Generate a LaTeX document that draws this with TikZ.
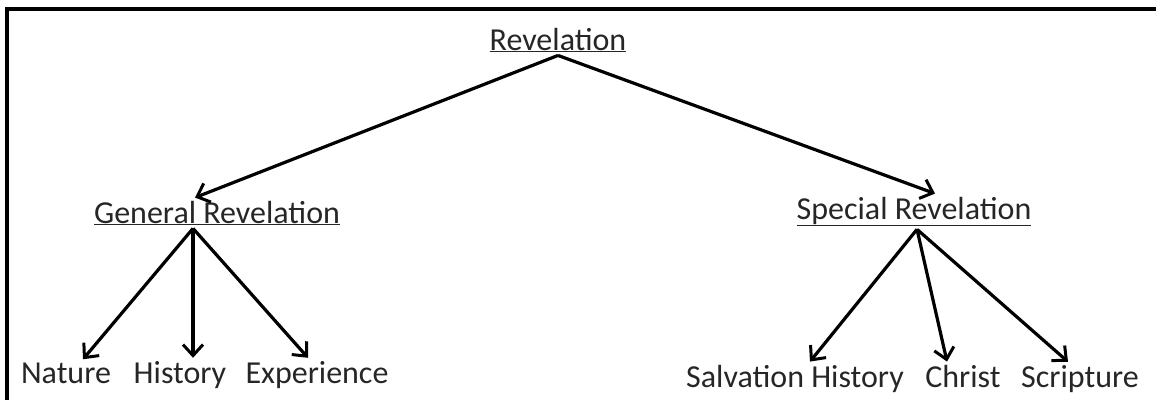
\documentclass[tikz,border=0pt]{standalone}
\usepackage{fontspec}
\setmainfont{Carlito}
\usetikzlibrary{arrows.meta}

\begin{document}
\begin{tikzpicture}[x=1pt, y=-1pt,
    lbl/.style={anchor=base, inner sep=3pt, text=black!85, font=\fontsize{32}{38}\selectfont},
    arr/.style={-{Straight Barb[length=11pt,width=20pt,line width=3pt]}, line width=3.2pt}]

\useasboundingbox (0,0) rectangle (1156,399);
\clip (0,0) rectangle (1156,399);

% Frame
\draw[line width=4pt] (1170,8.5) -| (7,410);

% Top level
\node[lbl] (rev) at (558,50) {\underline{Revelation}};

% Second level
\node[lbl] (gen) at (217,223) {\underline{General Revelation}};
\node[lbl] (spec) at (914,219) {\underline{Special Revelation}};

% Leaves
\node[lbl] (nat) at (66,383) {Nature};
\node[lbl] (hist) at (180,383) {History};
\node[lbl] (exp) at (317,383) {Experience};

\node[lbl] (salv) at (795,387) {Salvation History};
\node[lbl] (chr) at (963,387) {Christ};
\node[lbl] (scr) at (1080,387) {Scripture};

% Arrows
\draw[arr] (rev.south) -- ([xshift=-22pt]gen.north);
\draw[arr] (rev.south) -- ([xshift=21pt]spec.north);

\draw[arr] ([xshift=-24pt]gen.south) -- ([xshift=17pt]nat.north);
\draw[arr] ([xshift=-24pt]gen.south) -- ([xshift=13pt]hist.north);
\draw[arr] ([xshift=-24pt]gen.south) -- ([xshift=-9pt]exp.north);

\draw[arr] ([xshift=3pt]spec.south) -- ([xshift=15pt]salv.north);
\draw[arr] ([xshift=3pt]spec.south) -- ([xshift=-16pt]chr.north);
\draw[arr] ([xshift=3pt]spec.south) -- ([xshift=-12pt]scr.north);

\end{tikzpicture}
\end{document}
